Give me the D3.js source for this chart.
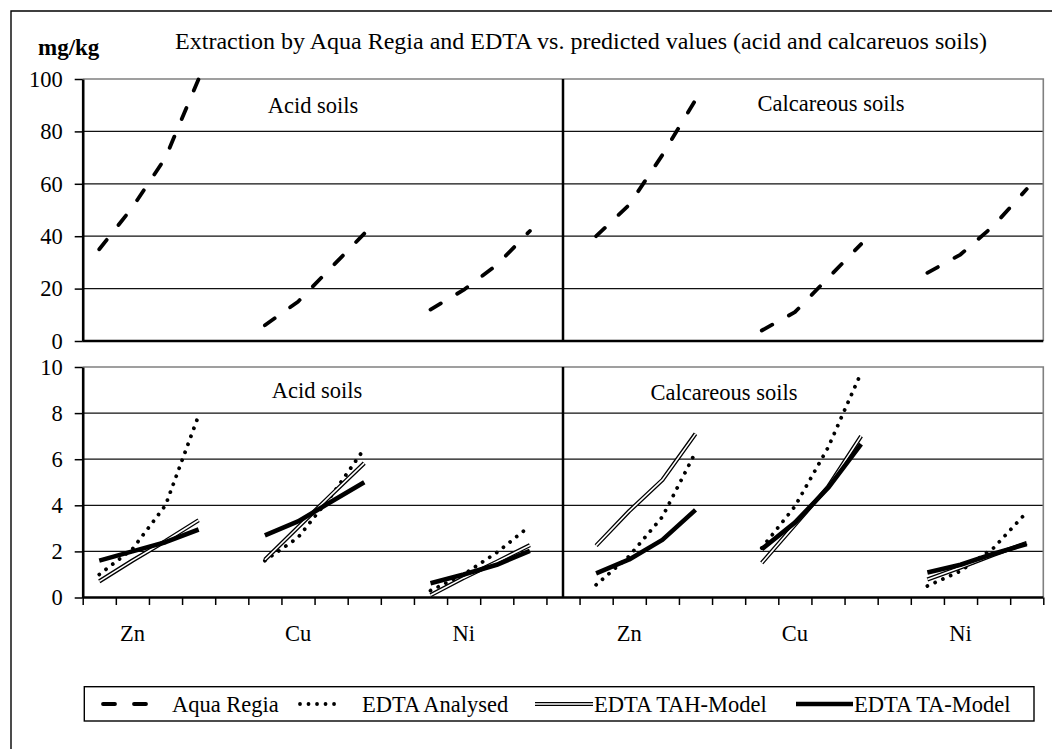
<!DOCTYPE html>
<html>
<head>
<meta charset="utf-8">
<script src="https://cdn.jsdelivr.net/npm/d3@7"></script>
<style>
  body { margin: 0; background: #fff; }
  svg text { font-family: "Liberation Serif", "Times New Roman", serif; fill: #000; }
</style>
</head>
<body>
<div id="chart"></div>
<script>
// one label per category slot, blank slots separate the metals
const categories = ["", "Zn", "", "", "", "", "Cu", "", "", "", "", "Ni", "", "", "",
                    "", "Zn", "", "", "", "", "Cu", "", "", "", "", "Ni", "", ""];

const aquaRegia    = [35, 51, 70, 100, null, 6, 15, 28, 41, null, 12, 19.5, 29, 42, null,
                      40, 52, 71, 92, null, 4, 11, 24, 37, null, 26, 33, 44, 58];
const edtaAnalysed = [1.0, 2.1, 4.0, 7.9, null, 1.6, 2.6, 4.4, 6.45, null, 0.3, 1.0, 1.95, 3.1, null,
                      0.55, 1.8, 3.5, 6.3, null, 2.15, 3.95, 6.5, 9.75, null, 0.5, 1.15, 2.15, 3.7];
const edtaTAH      = [0.7, 1.6, 2.45, 3.35, null, 1.64, 3.05, 4.45, 5.83, null, 0.1, 0.85, 1.55, 2.27, null,
                      2.25, 3.75, 5.1, 7.1, null, 1.5, 3.15, 4.8, 7.0, null, 0.78, 1.3, 1.85, 2.37];
const edtaTA       = [1.6, 2.0, 2.4, 2.95, null, 2.7, 3.3, 4.15, 5.0, null, 0.62, 1.0, 1.42, 2.02, null,
                      1.05, 1.65, 2.5, 3.8, null, 2.1, 3.25, 4.75, 6.65, null, 1.08, 1.42, 1.9, 2.32];

const topTicks = [0, 20, 40, 60, 80, 100];
const bottomTicks = [0, 2, 4, 6, 8, 10];
const dividerIndex = 14;

const seriesNames = ["Aqua Regia", "EDTA Analysed", "EDTA TAH-Model", "EDTA TA-Model"];

const width = 1052, height = 749;
const plotLeft = 82.7, plotRight = 1043.3;
const fontSize = "22.5px";

const styles = {
  "Aqua Regia":     [{ stroke: "#000", width: 3.8, dash: "12,19" }],
  "EDTA Analysed":  [{ stroke: "#000", width: 3.8, dash: "0.01,8.5" }],
  "EDTA TAH-Model": [{ stroke: "#000", width: 4.2 }, { stroke: "#fff", width: 1.6 }],
  "EDTA TA-Model":  [{ stroke: "#000", width: 4.6 }]
};

const svg = d3.select("#chart").append("svg")
  .attr("width", width)
  .attr("height", height);

// outer frame (runs off the right and bottom edges)
svg.append("path")
  .attr("d", `M11,${height} V11 H${width}`)
  .attr("fill", "none")
  .attr("stroke", "#000")
  .attr("stroke-width", 1.4);

const x = d3.scaleBand().domain(d3.range(categories.length)).range([plotLeft, plotRight]);
const xEdge = d3.scaleLinear().domain([0, categories.length]).range([plotLeft, plotRight]);
const cx = i => x(i) + x.bandwidth() / 2;

function drawSeries(g, y, name, values) {
  const line = d3.line()
    .defined(d => d != null)
    .x((d, i) => cx(i))
    .y(d => y(d));
  styles[name].forEach(s => {
    g.append("path")
      .datum(values)
      .attr("fill", "none")
      .attr("stroke", s.stroke)
      .attr("stroke-width", s.width)
      .attr("stroke-linecap", s.dash ? "round" : "butt")
      .attr("stroke-linejoin", "round")
      .attr("stroke-dasharray", s.dash || null)
      .attr("d", line);
  });
}

function drawPanel(cfg) {
  const g = svg.append("g");
  const y = d3.scaleLinear().domain([0, cfg.max]).range([cfg.bottom, cfg.top]);

  g.selectAll(".grid")
    .data(cfg.ticks.filter(t => t > 0 && t < cfg.max))
    .join("line")
      .attr("x1", plotLeft).attr("x2", plotRight)
      .attr("y1", d => y(d)).attr("y2", d => y(d))
      .attr("stroke", "#111")
      .attr("stroke-width", 1.3);

  // grey plot border on top and right
  g.append("path")
    .attr("d", `M${plotLeft},${cfg.top} H${plotRight} V${cfg.bottom}`)
    .attr("fill", "none")
    .attr("stroke", "#808080")
    .attr("stroke-width", 1.6);

  g.append("line")
    .attr("x1", cx(dividerIndex)).attr("x2", cx(dividerIndex))
    .attr("y1", cfg.top).attr("y2", cfg.bottom)
    .attr("stroke", "#000")
    .attr("stroke-width", 2.5);

  cfg.series.forEach(([name, values]) => drawSeries(g, y, name, values));

  cfg.labels.forEach(l => {
    g.append("text")
      .attr("x", l.x).attr("y", l.y)
      .attr("text-anchor", "middle")
      .style("font-size", fontSize)
      .text(l.text);
  });

  // x axis line
  g.append("line")
    .attr("x1", plotLeft).attr("x2", plotRight)
    .attr("y1", cfg.bottom).attr("y2", cfg.bottom)
    .attr("stroke", "#000")
    .attr("stroke-width", 2.6);

  if (cfg.xTicks) {
    const tickAxis = g.append("g")
      .attr("transform", `translate(0,${cfg.bottom})`)
      .call(d3.axisBottom(xEdge).tickValues(d3.range(categories.length + 1)).tickSize(7.5).tickFormat(""));
    tickAxis.select(".domain").remove();
    tickAxis.selectAll(".tick line").attr("stroke-width", 1.5);

    const labelAxis = g.append("g")
      .attr("transform", `translate(0,${cfg.bottom})`)
      .call(d3.axisBottom(x).tickSize(0).tickPadding(28).tickFormat(i => categories[i]));
    labelAxis.select(".domain").remove();
    labelAxis.selectAll("text")
      .attr("font-family", null)
      .style("font-size", fontSize);
  }

  const yAxis = g.append("g")
    .attr("transform", `translate(${plotLeft},0)`)
    .call(d3.axisLeft(y).tickValues(cfg.ticks).tickSizeInner(8).tickSizeOuter(0).tickPadding(12));
  yAxis.select(".domain").attr("stroke-width", 2.6);
  yAxis.selectAll(".tick line").attr("stroke-width", 1.5);
  yAxis.selectAll("text")
    .attr("font-family", null)
    .style("font-size", fontSize);
}

drawPanel({
  top: 79, bottom: 341, max: 100, ticks: topTicks, xTicks: false,
  series: [[seriesNames[0], aquaRegia]],
  labels: [{ text: "Acid soils", x: 313, y: 113 }, { text: "Calcareous soils", x: 831, y: 111 }]
});

drawPanel({
  top: 367, bottom: 597.5, max: 10, ticks: bottomTicks, xTicks: true,
  series: [[seriesNames[1], edtaAnalysed], [seriesNames[2], edtaTAH], [seriesNames[3], edtaTA]],
  labels: [{ text: "Acid soils", x: 317, y: 398 }, { text: "Calcareous soils", x: 724, y: 400 }]
});

svg.append("text")
  .attr("x", 581).attr("y", 49)
  .attr("text-anchor", "middle")
  .style("font-size", "24px")
  .text("Extraction by Aqua Regia and EDTA vs. predicted values (acid and calcareuos soils)");

svg.append("text")
  .attr("x", 38).attr("y", 55)
  .style("font-size", "23px")
  .style("font-weight", "bold")
  .text("mg/kg");

// legend
const legend = svg.append("g");
legend.append("rect")
  .attr("x", 84.3).attr("y", 686.7)
  .attr("width", 949.7).attr("height", 34.3)
  .attr("fill", "#fff")
  .attr("stroke", "#000")
  .attr("stroke-width", 1.4);

const legendPos = [
  { x1: 103, x2: 160, tx: 172 },
  { x1: 300, x2: 338, tx: 362 },
  { x1: 535, x2: 593, tx: 594 },
  { x1: 796, x2: 853, tx: 854 }
];

seriesNames.forEach((name, i) => {
  const p = legendPos[i];
  styles[name].forEach(s => {
    legend.append("line")
      .attr("x1", p.x1).attr("x2", p.x2)
      .attr("y1", 704).attr("y2", 704)
      .attr("stroke", s.stroke)
      .attr("stroke-width", s.width)
      .attr("stroke-linecap", s.dash ? "round" : "butt")
      .attr("stroke-dasharray", s.dash || null);
  });
  legend.append("text")
    .attr("x", p.tx).attr("y", 711.5)
    .style("font-size", fontSize)
    .text(name);
});
</script>
</body>
</html>
